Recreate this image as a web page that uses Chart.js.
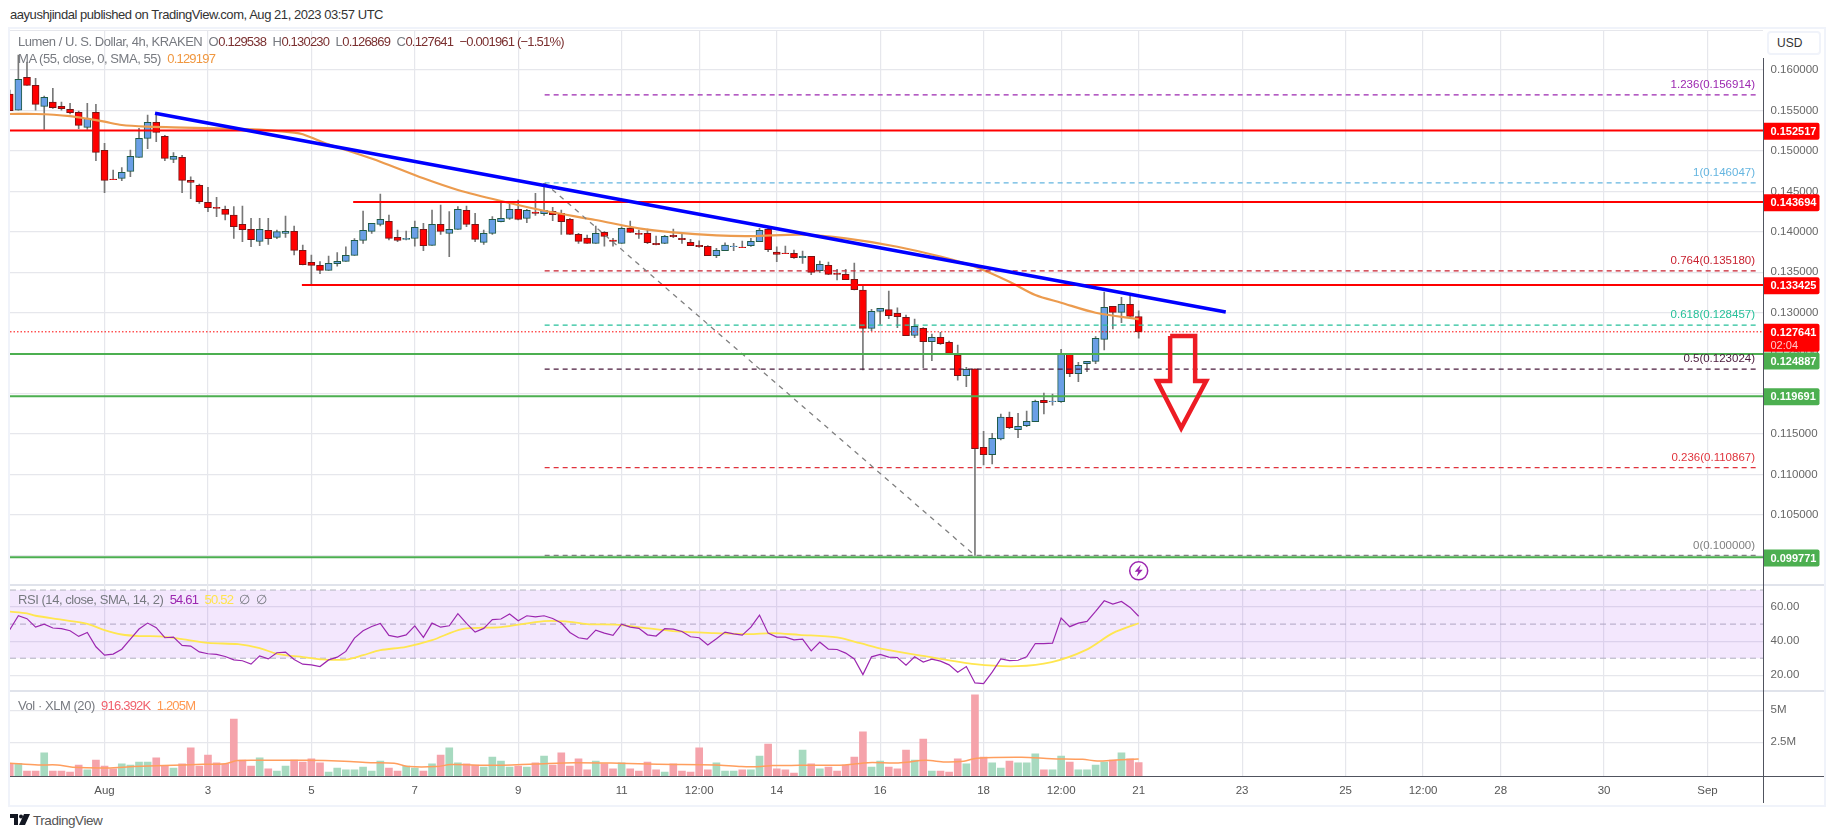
<!DOCTYPE html>
<html>
<head>
<meta charset="utf-8">
<title>Lumen / U. S. Dollar</title>
<script src="https://cdn.jsdelivr.net/npm/chart.js@4"></script>
<style>
  html, body { margin: 0; padding: 0; background: #fff; }
  body { position: relative; width: 1835px; height: 839px; overflow: hidden; font-family: "Liberation Sans", sans-serif; }
  canvas { position: absolute; left: 10px; }
  .frame { position: absolute; left: 8px; top: 27px; width: 1814px; height: 776px; border: 2px solid #f0f3fa; }
  .rule { position: absolute; background: #e0e3eb; }
  .dark { position: absolute; background: #50535e; }
  .txt { position: absolute; white-space: pre; font-size: 13px; line-height: 16px; letter-spacing: -0.45px; color: #777a80; z-index: 5; }
  .v { color: #7b3030; }
  .n { letter-spacing: -0.8px; }
  .usd { position: absolute; left: 1767px; top: 31px; width: 50px; height: 20px; border: 2px solid #f0f3fa; border-radius: 4px; background: #fff; font-size: 12px; line-height: 20px; color: #333; text-indent: 8px; z-index: 5; }
</style>
</head>
<body>
<div class="frame"></div>
<div class="rule" style="left:10px;top:30px;width:1753px;height:1px;background:#e6e7ec"></div>
<div class="rule" style="left:10px;top:584px;width:1814px;height:1.5px"></div>
<div class="rule" style="left:10px;top:690px;width:1814px;height:1.5px"></div>
<canvas id="mainChart" width="1814" height="554" style="top:30px"></canvas>
<canvas id="rsiChart" width="1814" height="106" style="top:584px"></canvas>
<canvas id="volChart" width="1814" height="113" style="top:690px"></canvas>
<div class="dark" style="left:10px;top:776px;width:1814px;height:1.2px"></div>
<div class="dark" style="left:1763px;top:58px;width:1.2px;height:745px;z-index:1"></div>

<div class="txt" style="left:10px;top:7px;color:#333">aayushjindal published on TradingView.com, Aug 21, 2023 03:57 UTC</div>
<div class="txt" style="left:18px;top:34px">Lumen / U. S. Dollar, 4h, KRAKEN  O<span class="v n">0.129538</span>  H<span class="v n">0.130230</span>  L<span class="v n">0.126869</span>  C<span class="v n">0.127641</span>  <span class="v n">−0.001961 (−1.51%)</span></div>
<div class="txt" style="left:18px;top:51px">MA (55, close, 0, SMA, 55)  <span class="n" style="color:#f0973f">0.129197</span></div>
<div class="txt" style="left:18px;top:592px">RSI (14, close, SMA, 14, 2)  <span class="n" style="color:#9c27b0">54.61</span>  <span class="n" style="color:#ffe44d">50.52</span>  ∅  ∅</div>
<div class="txt" style="left:18px;top:698px">Vol · XLM (20)  <span class="n" style="color:#f0616d">916.392K</span>  <span class="n" style="color:#ff9850">1.205M</span></div>
<div class="usd">USD</div>
<svg style="position:absolute;left:10px;top:814px" width="20" height="13" viewBox="0 0 20 13"><path d="M0 0h8v11H4V4H0zM14 0h6l-5 11H9z" fill="#131722"/><circle cx="11" cy="2.5" r="2" fill="#131722"/></svg>
<div class="txt" style="left:33px;top:813px;font-size:13.5px;color:#555">TradingView</div>

<script>
  // one bar every 4h, index 0 = Aug 1 00:00
  const firstBar = -11;
  const xMin = -10.97;
  const xMax = 192.5;

  const opens = [
    .15703,.15505,.15909,.15810,.15551,.15604,.15551,.15514,.15477,.15291,.15477,
    .15007,.14653,.14661,.14747,.14920,.15155,.15353,.15180,.14896,.14920,
    .14636,.14574,.14364,.14302,.14278,.14208,.14092,.14030,.13882,.14018,
    .13932,.13981,.14006,.13771,.13623,.13585,.13524,.13606,.13635,.13709,
    .13894,.14006,.14092,.14129,.13932,.13907,.13919,.14030,.13833,.14092,
    .13981,.14030,.14265,.14092,.13870,.13981,.14125,.14166,.14278,.14166,
    .14245,.14224,.14253,.14228,.14154,.13969,.13923,.13857,.13993,.13899,
    .13857,.14043,.13981,.13981,.13857,.13857,.13956,.13919,.13870,.13833,
    .13820,.13705,.13767,.13816,.13812,.13829,.13878,.14030,.13750,.13738,
    .13734,.13680,.13697,.13520,.13585,.13487,.13474,.13412,.13281,.12807,
    .13017,.13038,.12992,.12943,.12720,.12807,.12642,.12696,.12634,.12477,
    .12222,.12308,.11336,.11245,.11439,.11707,.11554,.11604,.11653,.11917,
    .11900,.11900,.12490,.12246,.12370,.12399,.12671,.13079,.13005,.13103,
    .129538
  ];
  const highs = [
    .15753,.16185,.16099,.15897,.15678,.15773,.15604,.15588,.15493,.15588,.15575,
    .15093,.14764,.14793,.15011,.15279,.15444,.15464,.15192,.14978,.14945,
    .14681,.14591,.14550,.14426,.14319,.14311,.14319,.14166,.14166,.14166,
    .14022,.14195,.14072,.13837,.13713,.13631,.13701,.13742,.13816,.13915,
    .14257,.14105,.14467,.14208,.14022,.14010,.14133,.14105,.14269,.14331,
    .14249,.14311,.14319,.14228,.14022,.14187,.14372,.14352,.14393,.14278,
    .14475,.14599,.14302,.14269,.14166,.13981,.13960,.14072,.14002,.13919,
    .14063,.14133,.14022,.14035,.13948,.13956,.14035,.13981,.13907,.13890,
    .13829,.13796,.13865,.13857,.13886,.13919,.14043,.14043,.13816,.13824,
    .13775,.13763,.13697,.13639,.13627,.13536,.13536,.13614,.13330,.13042,
    .13054,.13268,.13062,.12972,.12922,.12815,.12737,.12757,.12650,.12601,
    .12325,.12308,.11534,.11509,.11748,.11773,.11756,.11785,.11921,.12008,
    .11995,.12547,.12490,.12387,.12399,.12704,.13256,.13079,.13190,.13206,
    .130230
  ];
  const lows = [
    .15497,.15505,.15810,.15505,.15266,.15526,.15505,.15456,.15275,.15266,.14879,
    .14484,.14644,.14632,.14681,.14920,.15027,.15114,.14879,.14854,.14484,
    .14409,.14352,.14249,.14187,.14146,.13919,.13878,.13816,.13829,.13845,
    .13915,.13932,.13713,.13590,.13355,.13482,.13524,.13577,.13635,.13709,
    .13857,.13981,.14072,.13899,.13878,.13899,.13824,.13767,.13833,.13969,
    .13693,.14030,.14063,.13878,.13845,.13969,.14121,.14154,.14146,.14113,
    .14203,.14203,.14138,.13969,.13969,.13857,.13857,.13857,.13824,.13824,
    .13857,.13993,.13919,.13853,.13837,.13853,.13927,.13857,.13829,.13808,
    .13705,.13680,.13767,.13767,.13804,.13820,.13878,.13754,.13631,.13730,
    .13672,.13610,.13470,.13499,.13470,.13404,.13408,.13281,.12292,.12778,
    .12856,.12926,.12815,.12716,.12691,.12321,.12407,.12609,.12498,.12168,
    .12086,.10000,.11118,.11130,.11427,.11567,.11455,.11591,.11653,.11748,
    .11859,.11892,.12209,.12148,.12271,.12370,.12539,.12799,.12877,.12955,
    .126869
  ];
  const closes = [
    .15497,.15884,.15810,.15575,.15662,.15534,.15522,.15472,.15316,.15402,.14982,
    .14636,.14644,.14735,.14933,.15155,.15353,.15229,.14908,.14933,.14636,
    .14611,.14372,.14298,.14290,.14216,.14063,.14026,.13903,.14030,.13915,
    .14002,.14006,.13771,.13594,.13585,.13524,.13610,.13635,.13709,.13894,
    .14018,.14105,.14154,.13919,.13894,.13919,.14055,.13829,.14092,.14006,
    .14030,.14278,.14092,.13907,.13981,.14154,.14166,.14278,.14154,.14265,
    .14228,.14265,.14212,.14125,.13969,.13882,.13857,.13981,.13944,.13882,
    .14043,.13993,.13969,.13866,.13841,.13944,.13940,.13903,.13829,.13816,
    .13705,.13771,.13837,.13824,.13804,.13882,.14018,.13779,.13721,.13730,
    .13680,.13697,.13499,.13598,.13474,.13474,.13408,.13285,.12807,.13017,
    .13054,.12963,.12951,.12716,.12832,.12642,.12696,.12617,.12498,.12222,
    .12300,.11319,.11245,.11447,.11711,.11579,.11596,.11657,.11905,.11888,
    .11909,.12490,.12246,.12349,.12399,.12683,.13066,.13005,.13103,.12955,
    .127641
  ];

  const maBars = [-11,-8,-4,-2,0,2,5,8,13,18,22,23,26,28,32,37,41,46,51,57,62,66,71,75,81,86,92,97,101,105,108,111,115,120];
  const maValues = [.15456,.15456,.15431,.15398,.15361,.15320,.15299,.15291,.15279,.15262,.15225,.15205,.15081,.15011,.14867,.14661,.14517,.14381,.14261,.14146,.14043,.13993,.13956,.13948,.13965,.13919,.13816,.13693,.13569,.13384,.13219,.13124,.13000,.129197];

  const rsiValues = [
    46.7,54.9,53.2,48.2,50.0,47.7,47.3,46.1,42.8,45.1,36.7,
    31.8,32.4,35.3,41.2,47.1,50.6,47.9,42.0,42.4,37.5,
    37.1,33.7,32.6,32.2,31.0,29.0,28.5,26.5,31.4,29.6,
    33.2,33.6,29.2,26.5,26.1,25.1,29.0,30.6,34.0,41.8,
    46.1,48.6,50.4,43.4,42.4,43.7,49.0,42.2,50.6,48.2,
    49.0,56.1,50.4,45.3,47.5,52.6,53.0,55.9,52.0,54.9,
    54.3,54.9,53.3,50.6,45.1,42.0,41.2,46.5,44.7,43.4,
    50.0,48.2,47.5,43.7,43.0,47.3,47.1,45.7,42.6,42.0,
    37.7,41.4,45.3,44.3,43.5,48.2,55.3,44.7,42.4,42.4,
    40.8,41.2,34.3,39.4,35.3,35.1,33.0,29.6,20.4,30.8,
    32.2,30.6,30.4,25.9,30.8,27.7,29.4,28.3,26.1,21.8,
    25.1,15.5,15.1,21.8,29.6,28.6,28.8,30.8,38.6,38.5,
    38.8,53.5,48.5,50.6,51.6,57.5,63.7,61.8,63.3,59.8,
    54.61
  ];
  const rsiMaBars = [-11,-9,-8,-5,-2,0,2,4,6.5,9,12,15.5,18,20,23.5,25,28,30,32,35,38,41.5,46,51,53.5,56,59.7,62.8,66.4,70.8,74.8,77.5,80.6,85,87.7,90.4,95.2,101,105.9,109.9,113.9,117,120];
  const rsiMaValues = [57.3,56.3,54.9,52.6,50.2,46.5,43.9,43.0,42.8,41.2,39.0,38.2,35.9,32.6,30.4,29.4,29.2,31.8,34.7,36.7,40.6,47.1,48.2,51.8,51.6,50.0,49.6,47.7,45.7,44.7,44.1,44.7,43.7,42.2,38.8,35.3,31.2,26.5,25.3,27.7,34.9,44.7,50.52];

  // volume in millions
  const volumes = [
    .86,.86,.26,.26,1.67,.26,.26,.18,.73,.34,1.12,
    .65,.42,.81,.73,.96,.96,1.28,.65,.49,.81,
    2.06,.65,1.51,.89,.81,4.32,1.12,.65,1.28,.42,
    .26,.65,1.12,.96,1.20,.89,.18,.49,.34,.34,
    .57,.26,1.04,.49,.26,.65,.49,.26,.81,1.51,
    2.06,.89,.81,.73,.57,1.35,1.04,.57,.65,.57,
    .89,1.43,.73,1.67,.65,1.20,.34,1.04,.81,.42,
    .89,.42,.26,.96,.34,.18,.81,.26,.18,2.06,
    .34,.89,.26,.26,.34,.34,1.43,2.37,.42,.34,
    .10,1.90,.81,.42,.57,.26,.73,1.35,3.31,.57,
    1.04,.57,.42,1.90,1.12,2.76,.26,.26,.18,1.20,
    .81,6.20,1.35,.89,.49,1.04,.89,.89,1.59,.34,
    .34,1.43,.96,.34,.34,.73,.96,1.12,1.67,1.20,
    .916
  ];
  const volMaBars = [-11,-7.7,-5.5,-3.7,.3,3.4,6.9,11.4,14,15.4,18.9,23.3,27.8,30.9,33.6,35.4,38.5,40.2,44.7,50,54.5,59.7,64.2,70.8,73.9,76.2,77.5,80.6,85.9,88.6,92.1,95.3,97.5,99.7,101.2,106.4,109.9,113.5,115.2,117.4,120];
  const volMaValues = [.86,.73,.73,.55,.49,.60,.68,.78,.83,1.07,1.09,1.09,1.02,.91,.86,.60,.60,.76,.70,.81,.91,.86,.78,.73,.60,.60,.68,.70,.73,.91,.89,1.09,.96,1.02,1.25,1.33,1.22,1.17,1.04,1.12,1.205];

  const timeTickBars = [0,12,24,36,48,60,69,78,90,102,111,120,132,144,153,162,174,186];
  const timeTickLabels = ['Aug','3','5','7','9','11','12:00','14','16','18','12:00','21','23','25','12:00','28','30','Sep'];

  const priceTicks = [0.16,0.155,0.15,0.145,0.14,0.135,0.13,0.125,0.12,0.115,0.11,0.105,0.1];
  const rsiTicks = [60,40,20];
  const volTicks = [5,2.5];

  // horizontal support / resistance levels
  const redLevels = [0.152517,0.143694,0.133425];
  const redStartBars = [xMin,28.85,22.9];
  const greenLevels = [0.124887,0.119691,0.099771];
  const lastPrice = 0.127641;

  // fibonacci retracement drawing
  const fibRatios = ['1.236','1','0.764','0.618','0.5','0.236','0'];
  const fibValues = [0.156914,0.146047,0.135180,0.128457,0.123024,0.110867,0.100000];
  const fibColors = ['#9c27b0','#64b5e0','#c8202f','#26c09a','#4a1a3c','#e0333c','#808080'];
  const fibStartBar = 51.07;
  const fibEndBar = 192;

  const trendBars = [5.86,130.1];
  const trendValues = [0.15465,0.13009];

  const diagBars = [51.07,101];
  const diagValues = [0.146047,0.100000];

  const arrowBars = [123.65,126.55,126.55,127.83,124.93,122.14,123.65,123.65];
  const arrowValues = [0.12712,0.12712,0.12156,0.12156,0.11575,0.12156,0.12156,0.12712];

  const UP_FILL = '#6a9fe6', UP_EDGE = '#1f5a46';
  const DOWN_FILL = '#ff0000', DOWN_EDGE = '#7a1414';
  const GRID = '#e6e7ec';
  const AXIS_FONT = { family: '"Liberation Sans", sans-serif', size: 11.5 };

  const barIdx = opens.map((_, i) => firstBar + i);
  const isUp = opens.map((o, i) => closes[i] >= o);

  function pairs(xs, ys) {
    return xs.map((x, i) => ({ x, y: ys[i] }));
  }

  function flatLine(value, from, to, extra) {
    return Object.assign({
      type: 'line',
      data: [{ x: from, y: value }, { x: to, y: value }],
      pointRadius: 0,
      borderWidth: 2,
      tension: 0
    }, extra);
  }

  function baseOptions(yMin, yMax, yTicks, yLabel, xHeight) {
    return {
      responsive: false,
      animation: false,
      layout: { padding: 0 },
      plugins: { legend: { display: false }, tooltip: { enabled: false } },
      scales: {
        x: {
          type: 'linear',
          min: xMin,
          max: xMax,
          offset: false,
          grid: { color: GRID, lineWidth: 1.2, offset: false, drawTicks: false },
          border: { display: false },
          afterBuildTicks: s => { s.ticks = timeTickBars.map(v => ({ value: v })); },
          afterFit: s => { s.height = xHeight; s.paddingLeft = 0; s.paddingRight = 0; },
          ticks: {
            display: xHeight > 0,
            autoSkip: false,
            maxRotation: 0,
            padding: 7,
            color: '#555',
            font: AXIS_FONT,
            callback: v => timeTickLabels[timeTickBars.indexOf(v)]
          }
        },
        y: {
          position: 'right',
          min: yMin,
          max: yMax,
          grid: { color: GRID, lineWidth: 1.2, drawTicks: false },
          border: { display: false },
          afterBuildTicks: s => { s.ticks = yTicks.map(v => ({ value: v })); },
          afterFit: s => { s.width = 60.5; s.paddingTop = 0; s.paddingBottom = 0; },
          ticks: { padding: 7, color: '#666', font: AXIS_FONT, callback: yLabel }
        }
      }
    };
  }

  // price tags on the axis, fib texts and the alert icon
  const mainOverlay = {
    id: 'mainOverlay',
    afterDraw(chart) {
      const { ctx, chartArea, scales } = chart;
      const y = scales.y;

      ctx.save();
      ctx.font = '11.5px "Liberation Sans", sans-serif';
      ctx.textAlign = 'right';
      ctx.textBaseline = 'middle';
      fibRatios.forEach((r, i) => {
        ctx.fillStyle = fibColors[i];
        ctx.fillText(`${r}(${fibValues[i].toFixed(6)})`, chartArea.right - 8.5, y.getPixelForValue(fibValues[i]) - 10);
      });

      function tag(value, color, shift, h) {
        const cy = y.getPixelForValue(value) + shift;
        ctx.fillStyle = color;
        ctx.beginPath();
        ctx.roundRect(chartArea.right, cy - 8.5, 56, h, [0, 2, 2, 0]);
        ctx.fill();
        ctx.fillStyle = '#fff';
        ctx.font = 'bold 11px "Liberation Sans", sans-serif';
        ctx.textAlign = 'left';
        ctx.fillText(value.toFixed(6), chartArea.right + 7, cy + 0.5);
      }
      redLevels.forEach(v => tag(v, '#ff0000', 0.7, 17));
      tag(lastPrice, '#ff0000', 0.5, 28);
      ctx.font = '11px "Liberation Sans", sans-serif';
      ctx.fillStyle = '#ffc9c9';
      ctx.fillText('02:04', chartArea.right + 7, y.getPixelForValue(lastPrice) + 14.5);
      tag(greenLevels[0], '#4caf50', 7, 17);
      tag(greenLevels[1], '#4caf50', 0.7, 17);
      tag(greenLevels[2], '#4caf50', 0.7, 17);

      // lightning alert above the last bar
      const ix = scales.x.getPixelForValue(120);
      const iy = y.getPixelForValue(0.0981);
      ctx.strokeStyle = '#9c27b0';
      ctx.fillStyle = '#fff';
      ctx.lineWidth = 1.5;
      ctx.beginPath();
      ctx.arc(ix, iy, 9, 0, Math.PI * 2);
      ctx.fill();
      ctx.stroke();
      ctx.fillStyle = '#9c27b0';
      ctx.beginPath();
      ctx.moveTo(ix + 2, iy - 6);
      ctx.lineTo(ix - 4, iy + 1);
      ctx.lineTo(ix - 0.5, iy + 1);
      ctx.lineTo(ix - 2, iy + 6);
      ctx.lineTo(ix + 4, iy - 1);
      ctx.lineTo(ix + 0.5, iy - 1);
      ctx.closePath();
      ctx.fill();
      ctx.restore();
    }
  };

  new Chart(document.getElementById('mainChart'), {
    type: 'bar',
    data: {
      datasets: [
        {
          label: 'wicks',
          data: barIdx.map((x, i) => ({ x, y: [lows[i], highs[i]] })),
          backgroundColor: '#787878',
          barThickness: 1,
          grouped: false,
          order: 20
        },
        {
          label: 'bodies',
          data: barIdx.map((x, i) => ({ x, y: [opens[i], closes[i]] })),
          backgroundColor: isUp.map(u => u ? UP_FILL : DOWN_FILL),
          borderColor: isUp.map(u => u ? UP_EDGE : DOWN_EDGE),
          borderWidth: 1,
          borderSkipped: false,
          barThickness: 7,
          grouped: false,
          order: 19
        },
        { type: 'line', label: 'MA', data: pairs(maBars, maValues), borderColor: '#ec9b4e', borderWidth: 2.2, pointRadius: 0, tension: 0.3, order: 18 },
        flatLine(lastPrice, xMin, xMax, { borderColor: '#ff0000', borderWidth: 1, borderDash: [1.5, 2], order: 17 }),
        ...fibValues.map((v, i) => flatLine(v, fibStartBar, fibEndBar, { borderColor: fibColors[i], borderWidth: 1.3, borderDash: [5, 4], order: 16 })),
        { type: 'line', label: 'fib trend', data: pairs(diagBars, diagValues), borderColor: '#808080', borderWidth: 1.3, borderDash: [5, 5], pointRadius: 0, tension: 0, order: 15 },
        ...redLevels.map((v, i) => flatLine(v, redStartBars[i], xMax, { borderColor: '#ff0000', order: 14 })),
        ...greenLevels.map(v => flatLine(v, xMin, xMax, { borderColor: '#4caf50', order: 13 })),
        { type: 'line', label: 'trend', data: pairs(trendBars, trendValues), borderColor: '#0000ff', borderWidth: 3.5, pointRadius: 0, tension: 0, order: 12 },
        { type: 'line', label: 'arrow', data: pairs(arrowBars, arrowValues), borderColor: '#ed1c24', borderWidth: 4.5, pointRadius: 0, tension: 0, borderJoinStyle: 'miter', order: 11 }
      ]
    },
    options: baseOptions(0.096473, 0.164944, priceTicks, v => v.toFixed(6), 0),
    plugins: [mainOverlay]
  });

  new Chart(document.getElementById('rsiChart'), {
    type: 'line',
    data: {
      datasets: [
        flatLine(70, xMin, xMax, { borderColor: '#b2b5be', borderWidth: 1, borderDash: [6, 4], fill: { value: 30 }, backgroundColor: 'rgba(150,40,240,0.11)', order: 5 }),
        flatLine(50, xMin, xMax, { borderColor: '#b2b5be', borderWidth: 1, borderDash: [6, 4], order: 5 }),
        flatLine(30, xMin, xMax, { borderColor: '#b2b5be', borderWidth: 1, borderDash: [6, 4], order: 5 }),
        { label: 'RSI MA', data: pairs(rsiMaBars, rsiMaValues), borderColor: '#ffe650', borderWidth: 1.8, pointRadius: 0, tension: 0.3, order: 4 },
        { label: 'RSI', data: pairs(barIdx, rsiValues), borderColor: '#9c27b0', borderWidth: 1.2, pointRadius: 0, tension: 0, order: 3 }
      ]
    },
    options: baseOptions(11.35, 73.53, rsiTicks, v => v.toFixed(2), 0)
  });

  const volMin = -0.1875;
  new Chart(document.getElementById('volChart'), {
    type: 'bar',
    data: {
      datasets: [
        {
          label: 'Vol',
          data: pairs(barIdx, volumes),
          base: volMin,
          backgroundColor: isUp.map(u => u ? '#a7dac0' : '#f5a3ab'),
          barThickness: 7,
          order: 2
        },
        { type: 'line', label: 'Vol MA', data: pairs(volMaBars, volMaValues), borderColor: '#ff9e5e', borderWidth: 1.5, pointRadius: 0, tension: 0.3, order: 1 }
      ]
    },
    options: baseOptions(volMin, 6.586, volTicks, v => v + 'M', 26.3)
  });
</script>
</body>
</html>
